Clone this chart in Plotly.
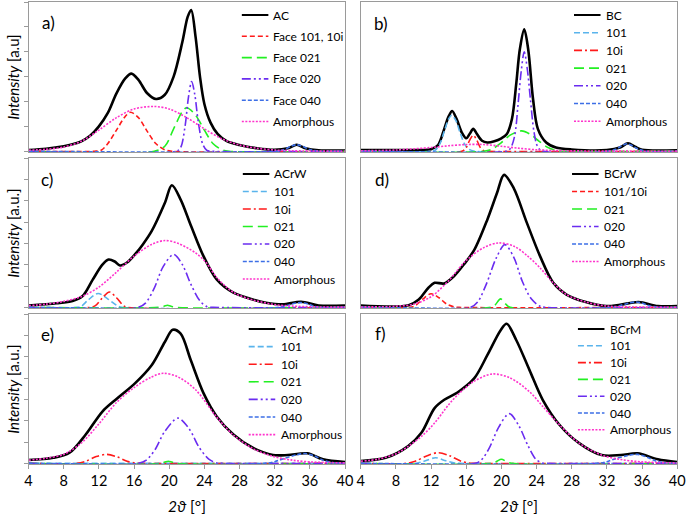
import plotly.graph_objects as go

# ---------------- DATA (intensity in axis-tick units) ----------------
# panel a) AC
AC_x = [4, 6, 8, 9, 10, 11, 12, 13, 14, 15, 15.7, 16.5, 17.5, 18.5, 19.5, 20.5, 21.5, 22.1, 22.5, 23.0, 23.5, 24.0, 24.7, 25.5, 26.5, 28, 30, 32, 33.5, 34.5, 35.5, 37, 40]
AC_y = [0.05, 0.1, 0.2, 0.28, 0.4, 0.62, 1.0, 1.53, 2.33, 2.93, 3.12, 2.87, 2.33, 2.1, 2.27, 3.0, 4.4, 5.4, 5.68, 4.6, 3.0, 1.9, 1.15, 0.7, 0.42, 0.25, 0.12, 0.06, 0.12, 0.26, 0.12, 0.04, 0.03]
a_101_x = [4, 11.5, 12.3, 13, 14, 15, 15.6, 16.5, 17.5, 18.5, 19.5, 20.3, 40]
a_101_y = [0, 0, 0.05, 0.3, 0.85, 1.4, 1.57, 1.35, 0.8, 0.3, 0.06, 0, 0]
a_021_x = [4, 18.3, 19.5, 20.5, 21.5, 22, 23, 24, 25, 26, 26.8, 40]
a_021_y = [0, 0, 0.2, 0.9, 1.6, 1.75, 1.45, 0.85, 0.3, 0.06, 0, 0]
a_020_x = [4, 20.8, 21.3, 21.8, 22.2, 22.55, 22.9, 23.3, 23.8, 24.3, 24.8, 40]
a_020_y = [0, 0, 0.15, 1.0, 2.2, 2.8, 2.3, 1.2, 0.3, 0.03, 0, 0]
a_040_x = [4, 32, 33, 34, 34.5, 35, 36, 37, 40]
a_040_y = [0, 0, 0.06, 0.22, 0.26, 0.22, 0.07, 0, 0]
a_amo_x = [4, 6, 8, 10, 12, 14, 16, 18.3, 20, 22, 24, 26, 28, 30, 32, 34, 36, 40]
a_amo_y = [0.04, 0.08, 0.17, 0.4, 0.85, 1.35, 1.7, 1.8, 1.7, 1.35, 0.9, 0.5, 0.25, 0.12, 0.05, 0.02, 0.01, 0]

# panel b) BC
BC_x = [4, 10, 12, 12.8, 13.5, 14.0, 14.4, 14.9, 15.5, 16.0, 16.4, 16.8, 17.2, 17.8, 18.4, 19.2, 20, 20.6, 21.2, 21.7, 22.1, 22.6, 23.05, 23.6, 24.15, 25.1, 26.2, 28, 32, 33.5, 34.4, 35.2, 36, 40]
BC_y = [0.05, 0.05, 0.08, 0.25, 0.9, 1.4, 1.62, 1.3, 0.75, 0.52, 0.7, 0.9, 0.7, 0.42, 0.35, 0.4, 0.52, 0.68, 1.3, 2.75, 4.1, 4.9, 4.1, 2.1, 0.9, 0.35, 0.15, 0.07, 0.05, 0.15, 0.32, 0.18, 0.06, 0.04]
b_101_x = [4, 12, 12.5, 13, 13.5, 14, 14.35, 14.8, 15.3, 15.8, 16.3, 17, 40]
b_101_y = [0, 0, 0.05, 0.3, 0.8, 1.3, 1.45, 1.25, 0.75, 0.3, 0.08, 0, 0]
b_10i_x = [4, 15.5, 16, 16.4, 16.8, 17.2, 17.6, 18, 18.5, 40]
b_10i_y = [0, 0, 0.15, 0.45, 0.64, 0.45, 0.15, 0.02, 0, 0]
b_021_x = [4, 18, 19, 20, 21, 22.3, 23.3, 24.3, 25.3, 26.3, 27, 40]
b_021_y = [0, 0, 0.1, 0.35, 0.65, 0.82, 0.68, 0.4, 0.15, 0.03, 0, 0]
b_020_x = [4, 20.5, 21, 21.5, 21.9, 22.25, 22.6, 22.95, 23.3, 23.7, 24.1, 24.6, 40]
b_020_y = [0, 0, 0.1, 0.6, 1.9, 3.2, 4.0, 3.3, 2.1, 0.8, 0.2, 0.02, 0]
b_040_x = [4, 32, 33, 33.7, 34.3, 34.9, 35.5, 36.5, 40]
b_040_y = [0, 0, 0.08, 0.22, 0.3, 0.22, 0.1, 0, 0]
b_amo_x = [4, 8, 12, 14, 16, 18, 20, 22, 24, 26, 30, 40]
b_amo_y = [0.02, 0.05, 0.15, 0.22, 0.27, 0.27, 0.2, 0.12, 0.06, 0.03, 0.01, 0]

# panel c) ACrW
ACrW_x = [4, 7.2, 9, 10.15, 11.3, 12.4, 13.1, 13.8, 14.4, 15.2, 16.1, 17, 18.0, 19.5, 20.3, 21.3, 22.5, 23.9, 25.4, 27.3, 29.5, 31, 32.9, 35.0, 37, 40]
ACrW_y = [0.09, 0.19, 0.3, 0.53, 1.3, 2.0, 2.24, 2.15, 1.96, 2.1, 2.48, 2.95, 3.57, 4.89, 5.72, 5.05, 3.8, 2.4, 1.31, 0.69, 0.37, 0.22, 0.14, 0.26, 0.09, 0.09]
c_101_x = [4, 9.5, 10, 10.8, 11.9, 13, 14, 14.6, 40]
c_101_y = [0, 0, 0.05, 0.35, 0.65, 0.4, 0.1, 0, 0]
c_10i_x = [4, 11, 11.6, 12.4, 13.2, 14, 14.8, 15.3, 40]
c_10i_y = [0, 0, 0.08, 0.45, 0.72, 0.45, 0.08, 0, 0]
c_021_x = [4, 18.8, 19.4, 19.8, 20.2, 20.8, 40]
c_021_y = [0, 0, 0.05, 0.1, 0.05, 0, 0]
c_020_x = [4, 16.5, 17.3, 18.3, 19.3, 20.5, 21.5, 22.5, 23.5, 24.3, 25, 40]
c_020_y = [0, 0, 0.2, 0.9, 1.9, 2.48, 2.0, 1.05, 0.3, 0.03, 0, 0]
c_040_x = [4, 32.5, 33.5, 34.3, 35, 35.7, 36.3, 37, 40]
c_040_y = [0, 0, 0.1, 0.19, 0.22, 0.17, 0.08, 0, 0]
c_amo_x = [4, 6, 8, 10, 12, 14, 16, 18, 19.5, 21, 23, 24.2, 25.4, 27.3, 29.5, 32, 34, 37, 40]
c_amo_y = [0.08, 0.15, 0.28, 0.5, 0.95, 1.65, 2.4, 2.95, 3.13, 3.0, 2.55, 2.1, 1.4, 0.7, 0.35, 0.13, 0.06, 0.02, 0.01]

# panel d) BCrW
BCrW_x = [4, 9.45, 10.6, 11.7, 12.4, 13.5, 14.6, 15.8, 16.9, 18.4, 19.5, 20.3, 21.4, 22.9, 24.4, 25.9, 27.4, 29.6, 31.9, 33.5, 35.6, 37.8, 40]
BCrW_y = [0.09, 0.1, 0.37, 0.92, 1.15, 1.12, 1.46, 2.05, 2.68, 4.11, 5.36, 6.21, 5.59, 3.96, 2.4, 1.15, 0.6, 0.25, 0.06, 0.12, 0.25, 0.06, 0.06]
d_101_x = [4, 9.5, 10.2, 11.1, 12, 12.9, 13.8, 14.7, 15.2, 40]
d_101_y = [0, 0, 0.08, 0.4, 0.64, 0.45, 0.15, 0.02, 0, 0]
d_021_x = [4, 18.8, 19.3, 19.9, 20.5, 21, 40]
d_021_y = [0, 0, 0.12, 0.4, 0.15, 0, 0]
d_020_x = [4, 16.5, 17.3, 18.3, 19.4, 20.4, 21.4, 22.4, 23.4, 24.4, 25, 40]
d_020_y = [0, 0, 0.25, 1.1, 2.3, 2.94, 2.35, 1.2, 0.4, 0.05, 0, 0]
d_040_x = [4, 32.5, 33.8, 34.6, 35.3, 36, 36.8, 38, 40]
d_040_y = [0, 0, 0.12, 0.21, 0.25, 0.2, 0.08, 0, 0]
d_amo_x = [4, 8, 10, 12, 14, 16, 18, 19.7, 21.5, 23, 24.4, 25.9, 27.4, 29.6, 32, 35, 40]
d_amo_y = [0.02, 0.05, 0.15, 0.5, 1.25, 2.2, 2.8, 3.02, 2.85, 2.4, 1.85, 1.15, 0.6, 0.25, 0.06, 0.02, 0]

# panel e) ACrM
ACrM_x = [4, 6.8, 8.66, 10.5, 12.4, 14.1, 16.1, 18.0, 19.5, 20.4, 21.3, 22.45, 23.9, 25.4, 27.3, 29.5, 31.8, 33.5, 35.7, 37.5, 40]
ACrM_y = [0.16, 0.26, 0.5, 1.35, 2.43, 3.05, 3.75, 4.6, 5.69, 6.26, 6.08, 4.84, 3.29, 2.2, 1.35, 0.73, 0.39, 0.39, 0.47, 0.19, 0.06]
e_101_x = [4, 40]
e_101_y = [0, 0]
e_10i_x = [4, 9.5, 10.5, 11.7, 12.9, 14.1, 15.2, 16.2, 16.8, 40]
e_10i_y = [0, 0, 0.1, 0.32, 0.42, 0.3, 0.1, 0.01, 0, 0]
e_021_x = [4, 19, 19.5, 19.9, 20.3, 20.8, 40]
e_021_y = [0, 0, 0.06, 0.1, 0.06, 0, 0]
e_020_x = [4, 16.5, 17.4, 18.4, 19.5, 21, 22.3, 23.4, 24.5, 25.4, 26, 40]
e_020_y = [0, 0, 0.15, 0.65, 1.5, 2.12, 1.6, 0.75, 0.2, 0.02, 0, 0]
e_040_x = [4, 31, 32, 33, 34.5, 35.5, 36.5, 37.5, 38.5, 40]
e_040_y = [0, 0, 0.08, 0.22, 0.4, 0.46, 0.35, 0.15, 0.04, 0]
e_amo_x = [4, 6, 8, 10, 12, 14, 16, 18, 19.3, 21, 23, 25.4, 27.3, 29.5, 31.8, 34, 36, 40]
e_amo_y = [0.15, 0.24, 0.42, 0.95, 1.85, 2.85, 3.55, 4.05, 4.22, 4.05, 3.45, 2.17, 1.33, 0.7, 0.33, 0.15, 0.07, 0.02]

# panel f) BCrM
BCrM_x = [4, 6.83, 9.4, 10.9, 12.4, 13.5, 15.0, 16.9, 18.4, 19.9, 20.6, 21.7, 23.2, 24.7, 26.6, 28.8, 31.4, 33.6, 35.5, 37.8, 40]
BCrM_y = [0.11, 0.26, 0.81, 1.43, 2.59, 2.98, 3.32, 3.98, 5.07, 6.23, 6.54, 5.77, 4.37, 2.98, 1.81, 0.96, 0.39, 0.39, 0.47, 0.19, 0.06]
f_101_x = [4, 10.3, 11.2, 12.5, 13.7, 14.7, 15.3, 40]
f_101_y = [0, 0, 0.1, 0.26, 0.12, 0.02, 0, 0]
f_10i_x = [4, 9.2, 10.2, 11.5, 12.8, 14.1, 15.3, 16.3, 17, 40]
f_10i_y = [0, 0, 0.1, 0.35, 0.5, 0.36, 0.12, 0.01, 0, 0]
f_021_x = [4, 18.8, 19.4, 20, 20.6, 21.2, 40]
f_021_y = [0, 0, 0.08, 0.19, 0.08, 0, 0]
f_020_x = [4, 17, 17.7, 18.6, 19.7, 20.9, 22, 23, 23.9, 24.6, 25.2, 40]
f_020_y = [0, 0, 0.15, 0.7, 1.7, 2.33, 1.75, 0.85, 0.2, 0.02, 0, 0]
f_040_x = [4, 31, 32, 33, 34.5, 35.5, 36.5, 37.5, 38.5, 40]
f_040_y = [0, 0, 0.08, 0.22, 0.38, 0.42, 0.3, 0.12, 0.03, 0]
f_amo_x = [4, 6, 8, 9.4, 11, 12.4, 14, 15, 16.9, 19, 21, 23.2, 24.7, 26.6, 28.8, 31.4, 33.6, 36, 40]
f_amo_y = [0.1, 0.2, 0.45, 0.8, 1.3, 1.89, 2.75, 3.2, 3.85, 4.19, 4.0, 3.36, 2.67, 1.81, 0.96, 0.39, 0.18, 0.07, 0.02]

x_ticks = [4, 8, 12, 16, 20, 24, 28, 32, 36, 40]

# ---------------- STYLES ----------------
STY = {
    'exp':     dict(color='#000000', width=2.6, dash='solid'),
    '101':     dict(color='#5ab4ec', width=1.6, dash='6px,3px'),
    '10i':     dict(color='#ff1a1a', width=1.6, dash='8px,3px,2px,3px'),
    '101_10i': dict(color='#ff1a1a', width=1.6, dash='5px,3px'),
    '021':     dict(color='#22f022', width=1.6, dash='10px,5px'),
    '020':     dict(color='#6a2cf0', width=1.6, dash='9px,3px,2px,3px,2px,3px'),
    '040':     dict(color='#3d6fe6', width=1.6, dash='4px,2px'),
    'amo':     dict(color='#ff33cc', width=1.6, dash='2px,1.5px'),
}

panels = [
    dict(tag='a)', series=[(AC_x, AC_y, 'exp', 'AC'), (a_101_x, a_101_y, '101_10i', 'Face 101, 10i'),
                          (a_021_x, a_021_y, '021', 'Face 021'), (a_020_x, a_020_y, '020', 'Face 020'),
                          (a_040_x, a_040_y, '040', 'Face 040'), (a_amo_x, a_amo_y, 'amo', 'Amorphous')]),
    dict(tag='b)', series=[(BC_x, BC_y, 'exp', 'BC'), (b_101_x, b_101_y, '101', '101'), (b_10i_x, b_10i_y, '10i', '10i'),
                          (b_021_x, b_021_y, '021', '021'), (b_020_x, b_020_y, '020', '020'),
                          (b_040_x, b_040_y, '040', '040'), (b_amo_x, b_amo_y, 'amo', 'Amorphous')]),
    dict(tag='c)', series=[(ACrW_x, ACrW_y, 'exp', 'ACrW'), (c_101_x, c_101_y, '101', '101'), (c_10i_x, c_10i_y, '10i', '10i'),
                          (c_021_x, c_021_y, '021', '021'), (c_020_x, c_020_y, '020', '020'),
                          (c_040_x, c_040_y, '040', '040'), (c_amo_x, c_amo_y, 'amo', 'Amorphous')]),
    dict(tag='d)', series=[(BCrW_x, BCrW_y, 'exp', 'BCrW'), (d_101_x, d_101_y, '101_10i', '101/10i'),
                          (d_021_x, d_021_y, '021', '021'), (d_020_x, d_020_y, '020', '020'),
                          (d_040_x, d_040_y, '040', '040'), (d_amo_x, d_amo_y, 'amo', 'Amorphous')]),
    dict(tag='e)', series=[(ACrM_x, ACrM_y, 'exp', 'ACrM'), (e_101_x, e_101_y, '101', '101'), (e_10i_x, e_10i_y, '10i', '10i'),
                          (e_021_x, e_021_y, '021', '021'), (e_020_x, e_020_y, '020', '020'),
                          (e_040_x, e_040_y, '040', '040'), (e_amo_x, e_amo_y, 'amo', 'Amorphous')]),
    dict(tag='f)', series=[(BCrM_x, BCrM_y, 'exp', 'BCrM'), (f_101_x, f_101_y, '101', '101'), (f_10i_x, f_10i_y, '10i', '10i'),
                          (f_021_x, f_021_y, '021', '021'), (f_020_x, f_020_y, '020', '020'),
                          (f_040_x, f_040_y, '040', '040'), (f_amo_x, f_amo_y, 'amo', 'Amorphous')]),
]

# ---------------- LAYOUT (pixel geometry) ----------------
W, H = 696, 516
COLS = [(25, 347), (363, 685)]
ROWS = [(2, 152, 6.0), (158, 308, 7.0), (314, 464, 7.0)]
TAG_POS = [(37, 23), (374, 24), (36, 180), (375, 180), (36, 334), (375, 333)]
# legend: line x0, text x, first row centre y, row step
LEG_POS = [(242, 272, 15, 21.3), (580, 611, 15, 17.7), (243, 273, 174, 17.5),
           (578, 608, 174, 17.5), (249, 280, 329, 17.6), (584, 615, 329, 16.8)]
LEG_LEN = 27
FONT = 'Lato, Carlito, Calibri, "Open Sans", sans-serif'
FRAME = '#9a9a9a'


def fx(p):
    return p / W


def fy(p):
    return 1 - p / H


fig = go.Figure()
shapes, annos = [], []
layout = {}

for i, p in enumerate(panels):
    row, col = divmod(i, 2)
    sfx = '' if i == 0 else str(i + 1)
    x0, x1 = COLS[col]
    y0, y1, ymax = ROWS[row]
    for xs, ys, key, name in p['series']:
        st = STY[key]
        fig.add_trace(go.Scatter(
            x=xs, y=ys, mode='lines', name=name, showlegend=False, hoverinfo='skip',
            xaxis='x' + sfx, yaxis='y' + sfx,
            line=dict(color=st['color'], width=st['width'], dash=st['dash'], shape='spline', smoothing=0.9)))
    bottom = row == 2
    layout['xaxis' + sfx] = dict(
        domain=[fx(x0), fx(x1)], range=[4, 40], anchor='y' + sfx,
        showline=True, linecolor=FRAME, linewidth=1, mirror=True,
        showgrid=False, zeroline=False, tickmode='array', tickvals=x_ticks,
        ticks='outside' if bottom else '', ticklen=4, tickcolor=FRAME,
        showticklabels=bottom, tickfont=dict(family=FONT, size=14.5, color='#000'))
    layout['yaxis' + sfx] = dict(
        domain=[fy(y1), fy(y0)], range=[-0.03, ymax], anchor='x' + sfx,
        showline=True, linecolor=FRAME, linewidth=1, mirror=True,
        showgrid=False, zeroline=False, tick0=0, dtick=1,
        ticks='outside' if col == 0 else '', ticklen=4, tickcolor=FRAME,
        showticklabels=False)
    # panel tag
    tx, ty = TAG_POS[i]
    annos.append(dict(text=p['tag'], x=fx(tx), y=fy(ty), xref='paper', yref='paper',
                      xanchor='left', yanchor='middle', showarrow=False,
                      font=dict(family=FONT, size=17, color='#000')))
    # legend drawn as keys + labels
    lx, ltx, ly, step = LEG_POS[i]
    for k, (xs, ys, key, name) in enumerate(p['series']):
        st = STY[key]
        yy = ly + k * step
        shapes.append(dict(type='line', xref='paper', yref='paper',
                           x0=fx(lx), x1=fx(lx + LEG_LEN), y0=fy(yy), y1=fy(yy),
                           line=dict(color=st['color'], width=2 if key == 'exp' else 1.6, dash=st['dash'])))
        annos.append(dict(text=name, x=fx(ltx), y=fy(yy), xref='paper', yref='paper',
                          xanchor='left', yanchor='middle', showarrow=False,
                          font=dict(family=FONT, size=12, color='#000')))

# y titles
for (y0, y1, _), txt in zip(ROWS, ['<i>Intensity</i> [a.u]', '<i>Intensity</i> [a.u.]', '<i>Intensity</i> [a.u.]']):
    annos.append(dict(text=txt, x=fx(9), y=fy((y0 + y1) / 2), xref='paper', yref='paper',
                      xanchor='center', yanchor='middle', textangle=-90, showarrow=False,
                      font=dict(family=FONT, size=15, color='#000')))
# x titles
for x0, x1 in COLS:
    annos.append(dict(text='<i>2ϑ</i> [°]', x=fx((x0 + x1) / 2), y=fy(506), xref='paper', yref='paper',
                      xanchor='center', yanchor='middle', showarrow=False,
                      font=dict(family=FONT, size=15.5, color='#000')))

fig.update_layout(width=W, height=H, margin=dict(l=0, r=0, t=0, b=0),
                  paper_bgcolor='white', plot_bgcolor='white', showlegend=False,
                  shapes=shapes, annotations=annos, **layout)

fig.write_html('out.html')
